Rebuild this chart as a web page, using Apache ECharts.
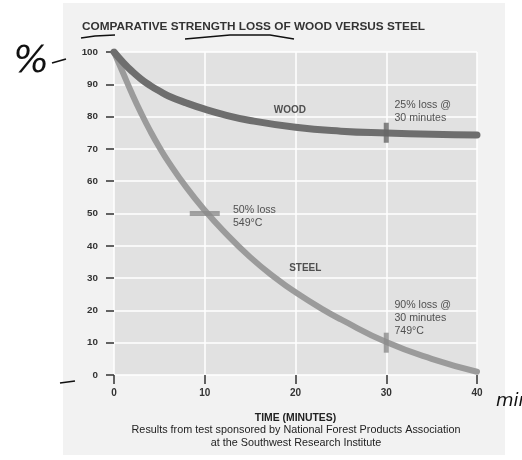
<!DOCTYPE html>
<html>
<head>
<meta charset="utf-8">
<script src="https://cdn.jsdelivr.net/npm/echarts@6/dist/echarts.min.js"></script>
<style>
html,body{margin:0;padding:0;background:#fff;}
#c{width:522px;height:460px;}
</style>
</head>
<body>
<div id="c"></div>
<script>
// ---- data ----
var xTicks = [0, 10, 20, 30, 40];
var woodTime  = [0, 1, 2, 3, 4, 5, 6, 8, 10, 12, 15, 20, 25, 30, 35, 40];
var woodValue = [100, 96.8, 94, 91.6, 89.6, 87.9, 86.4, 84.2, 82.3, 80.7, 78.8, 76.7, 75.5, 74.9, 74.5, 74.3];
var steelTime  = [0, 1, 2, 3, 4, 5, 6, 8, 10, 12, 15, 18, 20, 23, 25, 30, 35, 40];
var steelValue = [100, 93.5, 87, 81, 75.5, 70.5, 66, 58, 51, 44.8, 36.5, 29.6, 25.6, 20.3, 17.2, 10.2, 5, 1];
var woodMarker = [[30, 75]];
var steelMarkerH = [[10, 50]];
var steelMarkerV = [[30, 10]];
var labels = [
  {pos: [17.6, 82], text: 'WOOD', bold: true},
  {pos: [30.9, 81.6], text: '25% loss @\n30 minutes', bold: false},
  {pos: [13.1, 49], text: '50% loss\n549°C', bold: false},
  {pos: [19.3, 33.1], text: 'STEEL', bold: true},
  {pos: [30.9, 17.6], text: '90% loss @\n30 minutes\n749°C', bold: false}
];
var titleText = 'COMPARATIVE STRENGTH LOSS OF WOOD VERSUS STEEL';
var xName = 'TIME (MINUTES)';
var noteText = 'Results from test sponsored by National Forest Products Association\nat the Southwest Research Institute';

function zip(a, b) { return a.map(function (v, i) { return [v, b[i]]; }); }

var chart = echarts.init(document.getElementById('c'), null, {renderer: 'canvas'});
var FONT = '"Liberation Sans", Arial, sans-serif';

chart.setOption({
  backgroundColor: 'transparent',
  animation: false,
  title: {
    text: titleText,
    left: 77, top: 16,
    textStyle: {fontFamily: FONT, fontSize: 11.8, fontWeight: 'bold', color: '#333'}
  },
  grid: {
    left: 114, right: 45, top: 52, bottom: 85,
    show: true, backgroundColor: '#e1e1e1', borderWidth: 0
  },
  xAxis: {
    type: 'value', min: 0, max: 40, interval: 10,
    axisLine: {show: false},
    axisTick: {show: true, length: 9, lineStyle: {color: '#333', width: 1.5}},
    splitLine: {show: true, lineStyle: {color: '#fff', width: 1.5}},
    axisLabel: {margin: 13, fontFamily: FONT, fontSize: 10, fontWeight: 'bold', color: '#333',
      customValues: xTicks},
    name: xName, nameLocation: 'middle', nameGap: 38,
    nameTextStyle: {fontFamily: FONT, fontSize: 10.4, fontWeight: 'bold', color: '#222'}
  },
  yAxis: {
    type: 'value', min: 0, max: 100, interval: 10,
    axisLine: {show: false},
    axisTick: {show: true, length: 8, lineStyle: {color: '#333', width: 1.5}},
    splitLine: {show: true, lineStyle: {color: '#fff', width: 1.5}},
    axisLabel: {margin: 16, fontFamily: FONT, fontSize: 9.8, fontWeight: 'bold', color: '#333'}
  },
  graphic: [
    {type: 'rect', z: -100, silent: true, shape: {x: 63, y: 3, width: 442, height: 452}, style: {fill: '#f2f2f2'}},
    {type: 'text', z: 10, x: 296, y: 424, silent: true,
      style: {text: noteText, textAlign: 'center', font: '10.8px ' + FONT, fill: '#222', lineHeight: 12.5}},
    // handwritten annotations
    {type: 'text', z: 10, x: 13, y: 43, style: {text: '%', font: 'italic 38px "DejaVu Sans", sans-serif', fill: '#111'}},
    {type: 'text', z: 10, x: 496, y: 392, style: {text: 'min', font: 'italic 18px "DejaVu Sans", sans-serif', fill: '#111'}},
    {type: 'polyline', z: 10, shape: {points: [[52, 63], [66, 59]]}, style: {stroke: '#111', lineWidth: 1.6, fill: null}},
    {type: 'polyline', z: 10, shape: {points: [[60, 383], [75, 381]]}, style: {stroke: '#111', lineWidth: 1.6, fill: null}},
    {type: 'polyline', z: 10, shape: {points: [[81, 38], [95, 36], [115, 35]]}, style: {stroke: '#111', lineWidth: 1.6, fill: null}},
    {type: 'polyline', z: 10, shape: {points: [[185, 39], [230, 35], [270, 35], [294, 39]]}, style: {stroke: '#111', lineWidth: 1.6, fill: null}}
  ],
  series: [
    {
      name: 'Steel', type: 'line', smooth: 0.5, showSymbol: false, silent: true,
      data: zip(steelTime, steelValue),
      lineStyle: {color: '#9b9b9b', width: 6, cap: 'round'}, z: 2
    },
    {
      name: 'Wood', type: 'line', smooth: 0.5, showSymbol: false, silent: true,
      data: zip(woodTime, woodValue),
      lineStyle: {color: '#6e6e6e', width: 7, cap: 'round'}, z: 3
    },
    {
      name: 'WoodMarker', type: 'scatter', symbol: 'rect', symbolSize: [5, 20], silent: true,
      data: woodMarker, itemStyle: {color: '#666'}, z: 4
    },
    {
      name: 'SteelMarkerH', type: 'scatter', symbol: 'rect', symbolSize: [30, 5], silent: true,
      data: steelMarkerH, itemStyle: {color: '#8c8c8c'}, z: 4
    },
    {
      name: 'SteelMarkerV', type: 'scatter', symbol: 'rect', symbolSize: [5, 20], silent: true,
      data: steelMarkerV, itemStyle: {color: '#8c8c8c'}, z: 4
    },
    {
      name: 'Labels', type: 'scatter', symbolSize: 0, silent: true, z: 5,
      data: labels.map(function (l) {
        return {value: l.pos, label: {
          show: true, position: 'right', distance: 0, formatter: l.text,
          fontFamily: FONT, fontSize: l.bold ? 10 : 10.6, fontWeight: l.bold ? 'bold' : 'normal',
          color: '#2a2a2a', lineHeight: 13, align: 'left', verticalAlign: 'middle'
        }};
      })
    }
  ]
});
</script>
</body>
</html>
